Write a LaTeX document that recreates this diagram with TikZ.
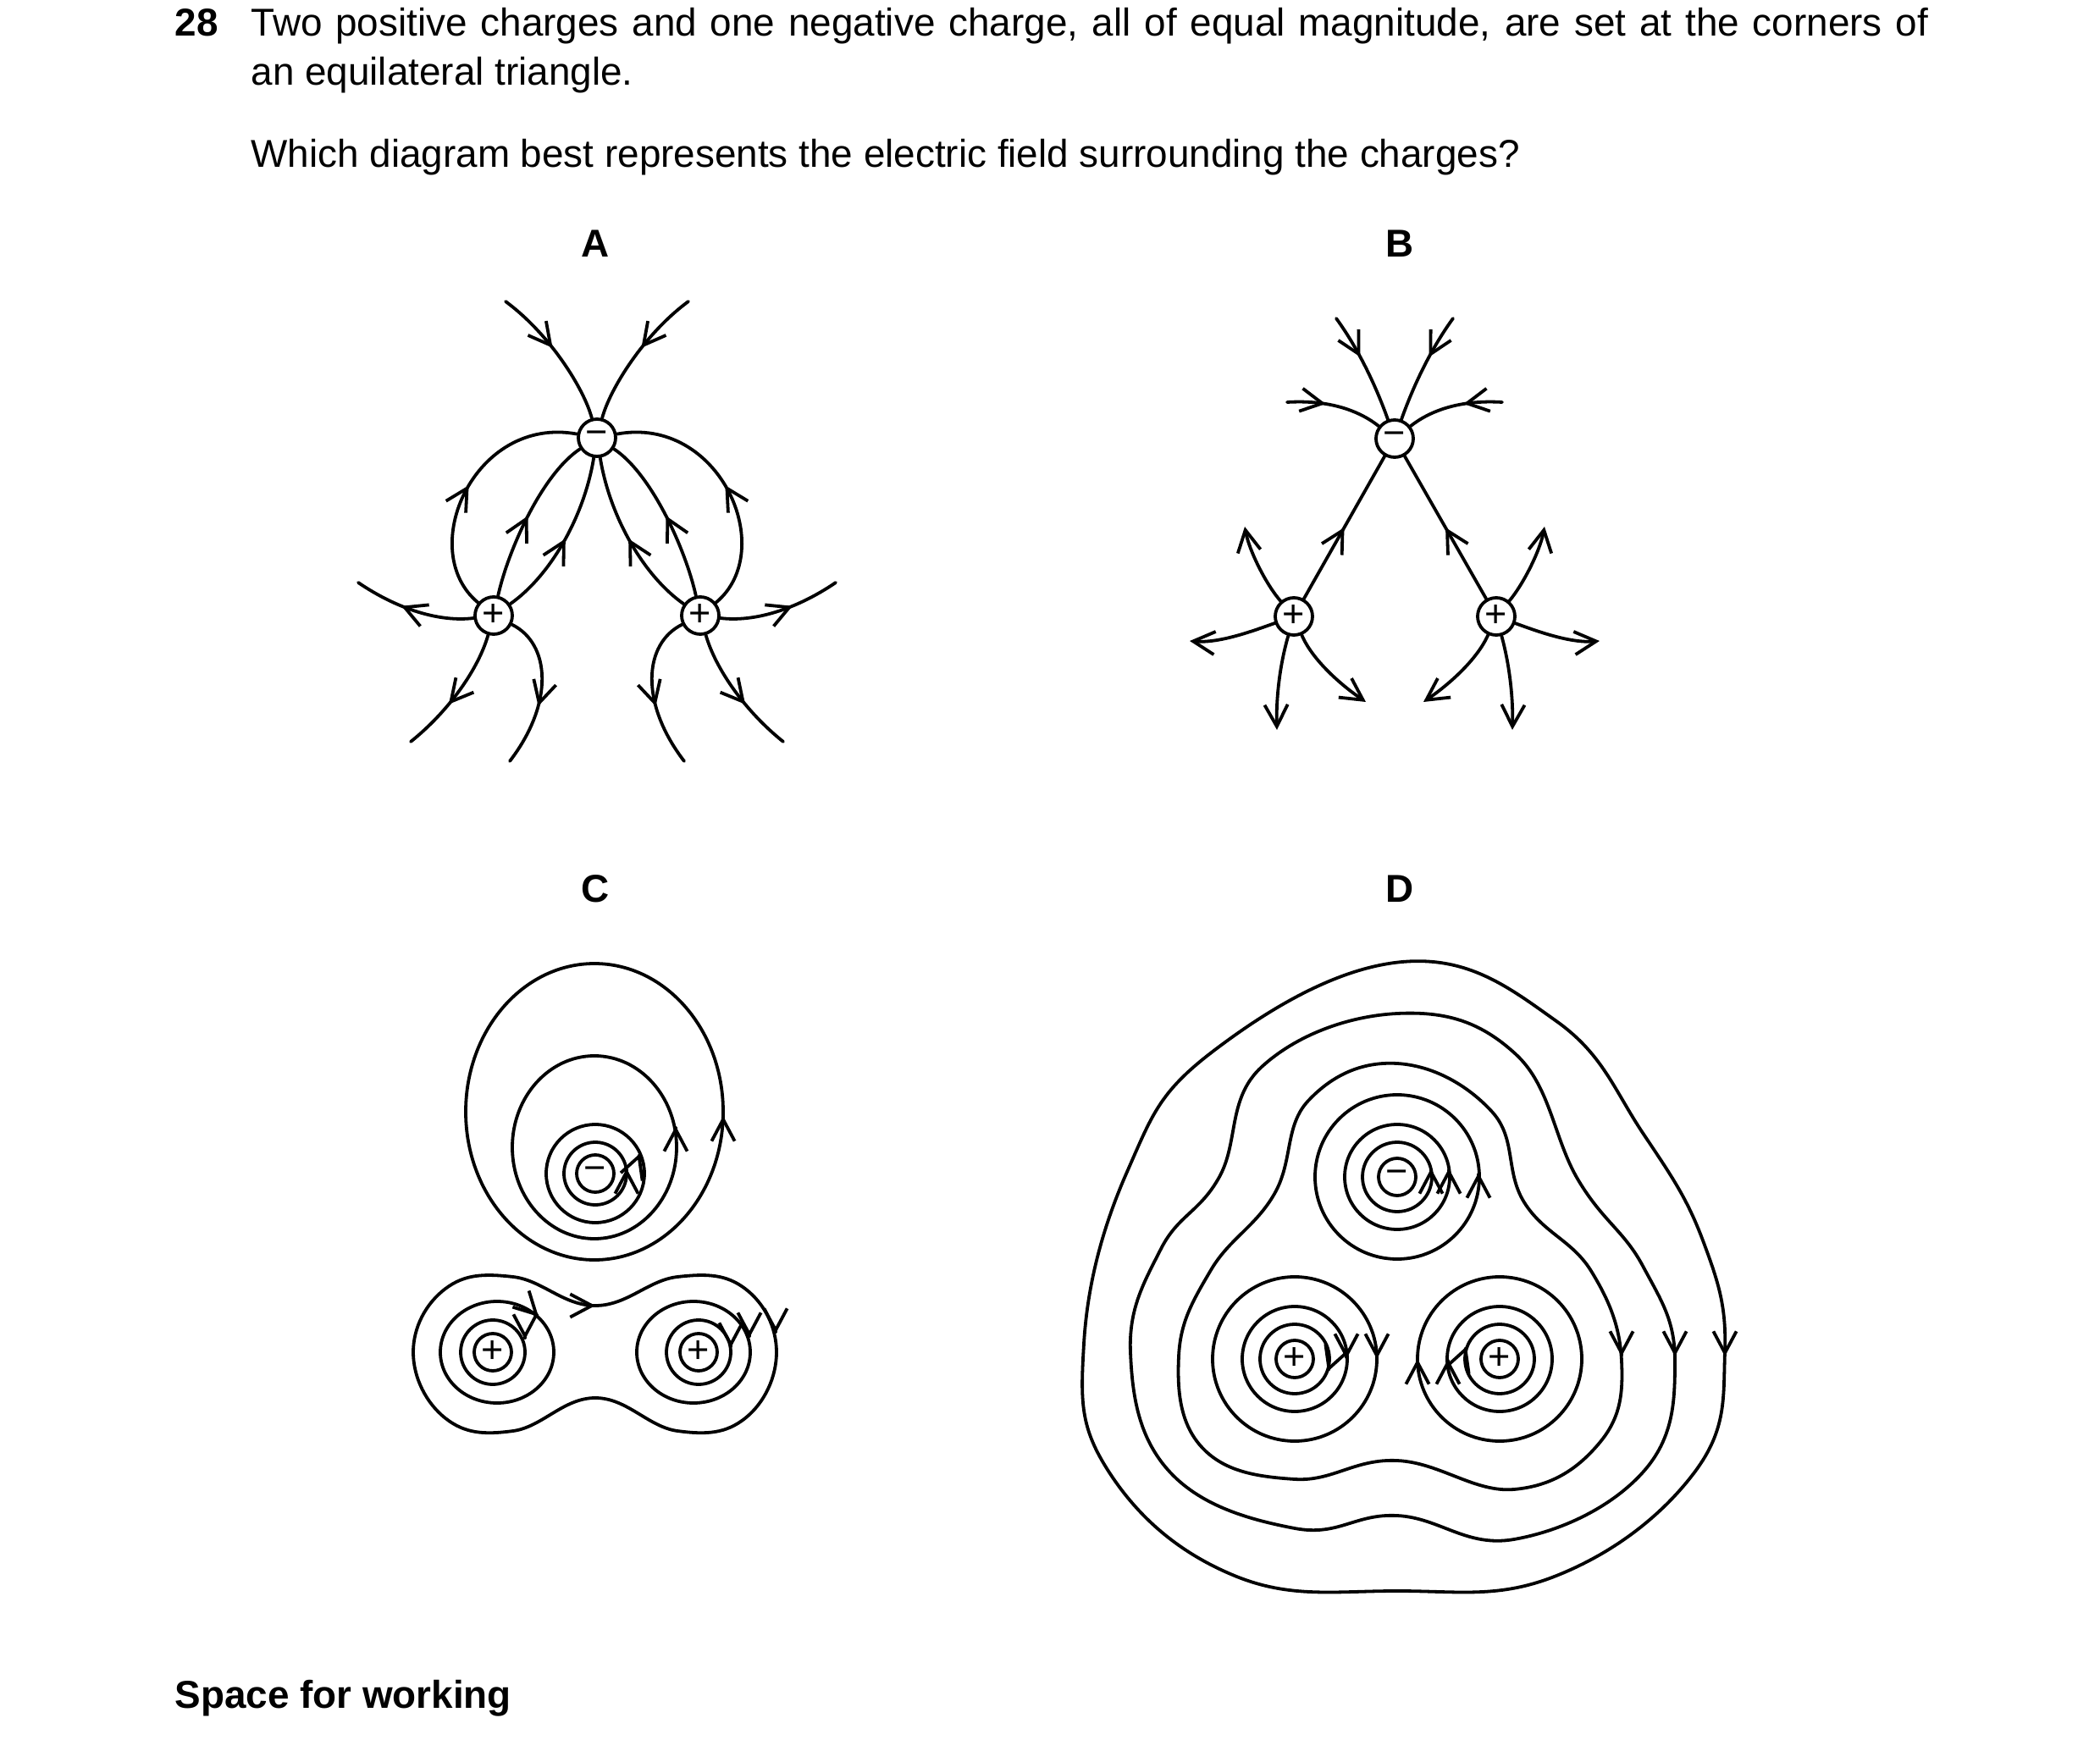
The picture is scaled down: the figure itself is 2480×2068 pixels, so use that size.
\documentclass[tikz,border=0pt]{standalone}
\usepackage{fontspec}
\setmainfont{Liberation Sans}
\usetikzlibrary{arrows.meta,decorations.markings}

\tikzset{
  field/.style={line width=1.35pt, line cap=round},
  barb/.tip={Straight Barb[length=0.32cm, width=0.34cm, line width=1.35pt]},
  tip/.style={field, -barb},
  mid arrow/.style={postaction={decorate}, decoration={markings, mark=at position #1 with {\arrow{barb}}}},
  mid arrow/.default=0.5,
  charge/.style={circle, draw, line width=1.35pt, fill=white, minimum size=0.55cm, inner sep=0pt, font=\fontsize{16}{16}\selectfont},
  label/.style={font=\fontsize{16.3}{19}\selectfont\bfseries}
}
% arrow head at a point, direction in picture coordinates (90 = down)
\newcommand\tipat[2]{\draw[tip] (#1) ++(#2+180:2) -- (#1);}

\begin{document}
\begin{tikzpicture}[x=0.0125cm, y=-0.0125cm]
\useasboundingbox (0,0) rectangle (2480,2068);

% question
\node[anchor=base west, inner sep=0pt, label] (num) at (206,43) {28};
\node[anchor=base west, inner sep=0pt, text width=24.75cm, align=justify, font=\fontsize{16.3}{20.5}\selectfont] (q) at (296,43)
  {Two positive charges and one negative charge, all of equal magnitude, are set at the corners of\linebreak an equilateral triangle.};
\node[anchor=base west, inner sep=0pt, font=\fontsize{16.3}{20.5}\selectfont] (ask) at (296,198)
  {Which diagram best represents the electric field surrounding the charges?};
\node[label] (labA) at (703,288) {A};
\node[label] (labB) at (1653,288) {B};
\node[label] (labC) at (703,1050) {C};
\node[label] (labD) at (1653,1050) {D};
\node[anchor=base west, inner sep=0pt, label] (work) at (206,2017) {Space for working};

% ---- A ----
\node[charge] (nA) at (705,517) {−};
\node[charge] (pAl) at (583,727) {+};
\node[charge] (pAr) at (827,727) {+};
\draw[field, mid arrow=0.45] (597,356) .. controls (650,395) and (690,460) .. (nA);
\draw[field, mid arrow=0.45] (813,356) .. controls (760,395) and (720,460) .. (nA);
\draw[field, mid arrow] (pAl) .. controls (490,650) and (560,490) .. (nA);
\draw[field, mid arrow] (pAl) .. controls (600,650) and (640,560) .. (nA);
\draw[field, mid arrow] (pAl) .. controls (650,680) and (690,610) .. (nA);
\draw[field, mid arrow] (pAr) .. controls (920,650) and (850,490) .. (nA);
\draw[field, mid arrow] (pAr) .. controls (810,650) and (770,560) .. (nA);
\draw[field, mid arrow] (pAr) .. controls (760,680) and (720,610) .. (nA);
\draw[field, mid arrow=0.6] (pAl) .. controls (520,735) and (470,720) .. (423,688);
\draw[field, mid arrow=0.6] (pAl) .. controls (565,790) and (530,840) .. (485,876);
\draw[field, mid arrow=0.6] (pAl) .. controls (650,760) and (655,830) .. (602,899);
\draw[field, mid arrow=0.6] (pAr) .. controls (890,735) and (940,720) .. (987,688);
\draw[field, mid arrow=0.6] (pAr) .. controls (845,790) and (880,840) .. (925,876);
\draw[field, mid arrow=0.6] (pAr) .. controls (760,760) and (755,830) .. (808,899);

% ---- B ----
\node[charge] (nB) at (1647,518) {−};
\node[charge] (pBl) at (1528,728) {+};
\node[charge] (pBr) at (1767,728) {+};
\draw[field, mid arrow=0.4] (1578,376) .. controls (1610,420) and (1630,470) .. (nB);
\draw[field, mid arrow=0.4] (1716,376) .. controls (1684,420) and (1664,470) .. (nB);
\draw[field, mid arrow=0.4] (1520,475) .. controls (1570,472) and (1605,485) .. (nB);
\draw[field, mid arrow=0.4] (1774,475) .. controls (1724,472) and (1689,485) .. (nB);
\draw[field, mid arrow] (pBl) -- (nB);
\draw[field, mid arrow] (pBr) -- (nB);
\draw[tip] (pBl) .. controls (1495,690) and (1475,650) .. (1470,622);
\draw[tip] (pBl) .. controls (1480,745) and (1440,760) .. (1405,757);
\draw[tip] (pBl) .. controls (1510,790) and (1507,830) .. (1508,862);
\draw[tip] (pBl) .. controls (1550,780) and (1585,810) .. (1613,829);
\draw[tip] (pBr) .. controls (1799,690) and (1819,650) .. (1824,622);
\draw[tip] (pBr) .. controls (1814,745) and (1854,760) .. (1889,757);
\draw[tip] (pBr) .. controls (1784,790) and (1787,830) .. (1786,862);
\draw[tip] (pBr) .. controls (1744,780) and (1709,810) .. (1681,829);

% ---- C ----
\draw[field] (702,1313) ellipse [x radius=152, y radius=175];
\draw[field] (702,1355) ellipse [x radius=97, y radius=108];
\draw[field] (703,1386) circle [radius=58];
\draw[field] (703,1386) circle [radius=37];
\draw[field] (582,1597) circle [radius=38];
\draw[field] (587,1597) ellipse [x radius=67, y radius=60];
\draw[field] (825,1597) circle [radius=38];
\draw[field] (819,1597) ellipse [x radius=67, y radius=60];
\draw[field] plot[smooth cycle, tension=0.7] coordinates {(703,1542) (800,1508) (880,1522) (917,1597) (880,1675) (800,1690) (703,1651) (606,1690) (526,1675) (488,1597) (526,1522) (606,1508)};
\node[charge] (nC) at (703,1386) {−};
\node[charge] (pCl) at (582,1597) {+};
\node[charge] (pCr) at (825,1597) {+};
\tipat{740,1380}{-90}
\tipat{756,1362}{-70}
\tipat{798,1330}{-90}
\tipat{854,1318}{-90}
\tipat{620,1582}{90}
\tipat{636,1555}{45}
\tipat{863,1592}{90}
\tipat{885,1580}{90}
\tipat{916,1575}{90}
\tipat{703,1542}{0}

% ---- D ----
\foreach \r in {41,62,97} {
  \draw[field] (1650,1390) circle [radius=\r];
  \draw[field] (1529,1605) circle [radius=\r];
  \draw[field] (1771,1605) circle [radius=\r];
}
\draw[field] plot[smooth cycle, tension=0.7] coordinates {(1650,1256) (1762,1313) (1800,1420) (1879,1501) (1915,1607) (1889,1704) (1788,1759) (1650,1725) (1529,1747) (1420,1710) (1392,1602) (1430,1500) (1505,1410) (1545,1300)};
\draw[field] plot[smooth cycle, tension=0.7] coordinates {(1650,1197) (1790,1245) (1864,1394) (1940,1495) (1978,1607) (1940,1739) (1788,1818) (1650,1790) (1529,1805) (1382,1739) (1335,1597) (1371,1475) (1440,1390) (1490,1260)};
\draw[field] plot[smooth cycle, tension=0.7] coordinates {(1656,1136) (1838,1206) (1940,1338) (2011,1465) (2037,1597) (2001,1739) (1838,1861) (1650,1879) (1458,1861) (1310,1739) (1280,1587) (1331,1384) (1432,1242)};
\node[charge] (nD) at (1650,1390) {−};
\node[charge] (pDl) at (1529,1605) {+};
\node[charge] (pDr) at (1771,1605) {+};
\tipat{1690,1380}{-90}
\tipat{1711,1380}{-90}
\tipat{1746,1385}{-90}
\tipat{1568,1620}{110}
\tipat{1590,1605}{90}
\tipat{1626,1605}{90}
\tipat{1732,1590}{-70}
\tipat{1710,1605}{-90}
\tipat{1674,1605}{-90}
\tipat{1915,1602}{90}
\tipat{1978,1602}{90}
\tipat{2037,1602}{90}
\end{tikzpicture}
\end{document}
